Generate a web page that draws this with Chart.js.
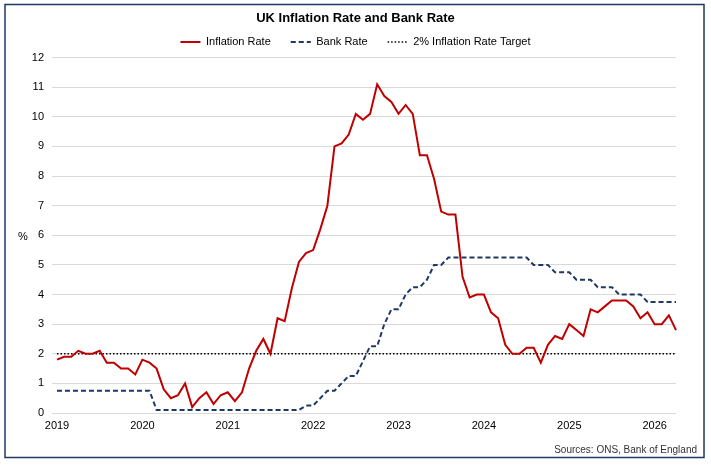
<!DOCTYPE html>
<html>
<head>
<meta charset="utf-8">
<script src="https://cdn.jsdelivr.net/npm/chart.js@4/dist/chart.umd.min.js"></script>
<style>
    body { margin: 0; background: #fff; }
    #wrap { position: relative; width: 711px; height: 465px; }
</style>
</head>
<body>
<div id="wrap"><canvas id="rates_chart" width="711" height="465"></canvas></div>
<script>
// tick labels / categories
const years = ["2019", "2020", "2021", "2022", "2023", "2024", "2025", "2026"];
const months = ["Jan", "Feb", "Mar", "Apr", "May", "Jun", "Jul", "Aug", "Sep", "Oct", "Nov", "Dec"];

// CPI 12-month rate, Jan 2019 - Apr 2026
const inflationRate = [
    1.8, 1.9, 1.9, 2.1, 2.0, 2.0, 2.1, 1.7, 1.7, 1.5, 1.5, 1.3,
    1.8, 1.7, 1.5, 0.8, 0.5, 0.6, 1.0, 0.2, 0.5, 0.7, 0.3, 0.6,
    0.7, 0.4, 0.7, 1.5, 2.1, 2.5, 2.0, 3.2, 3.1, 4.2, 5.1, 5.4,
    5.5, 6.2, 7.0, 9.0, 9.1, 9.4, 10.1, 9.9, 10.1, 11.1, 10.7, 10.5,
    10.1, 10.4, 10.1, 8.7, 8.7, 7.9, 6.8, 6.7, 6.7, 4.6, 3.9, 4.0,
    4.0, 3.4, 3.2, 2.3, 2.0, 2.0, 2.2, 2.2, 1.7, 2.3, 2.6, 2.5,
    3.0, 2.8, 2.6, 3.5, 3.4, 3.6, 3.8, 3.8, 3.8, 3.6, 3.2, 3.4,
    3.0, 3.0, 3.3, 2.8
];

// Bank Rate, same months
const bankRate = [
    0.75, 0.75, 0.75, 0.75, 0.75, 0.75, 0.75, 0.75, 0.75, 0.75, 0.75, 0.75,
    0.75, 0.75, 0.1, 0.1, 0.1, 0.1, 0.1, 0.1, 0.1, 0.1, 0.1, 0.1,
    0.1, 0.1, 0.1, 0.1, 0.1, 0.1, 0.1, 0.1, 0.1, 0.1, 0.1, 0.25,
    0.25, 0.5, 0.75, 0.75, 1.0, 1.25, 1.25, 1.75, 2.25, 2.25, 3.0, 3.5,
    3.5, 4.0, 4.25, 4.25, 4.5, 5.0, 5.0, 5.25, 5.25, 5.25, 5.25, 5.25,
    5.25, 5.25, 5.25, 5.25, 5.25, 5.25, 5.25, 5.0, 5.0, 5.0, 4.75, 4.75,
    4.75, 4.5, 4.5, 4.5, 4.25, 4.25, 4.25, 4.0, 4.0, 4.0, 4.0, 3.75,
    3.75, 3.75, 3.75, 3.75
];

const targetRate = 2;

// month labels built from the years / months lists
let labels = [];
years.forEach(y => months.forEach(m => labels.push(m + " " + y)));
labels = labels.slice(0, inflationRate.length);

const FONT = "'Liberation Sans', Arial, sans-serif";

// frame, "%" label and source note
const extras = {
    id: "extras",
    afterDraw(chart) {
        const ctx = chart.ctx;
        ctx.save();
        ctx.strokeStyle = "#1f3864";
        ctx.lineWidth = 1.5;
        ctx.strokeRect(5, 4.5, 699, 453);
        ctx.fillStyle = "#000";
        ctx.font = "11px " + FONT;
        ctx.textAlign = "left";
        ctx.textBaseline = "middle";
        ctx.fillText("%", 18, 237);
        ctx.fillStyle = "#333";
        ctx.font = "10px " + FONT;
        ctx.textAlign = "right";
        ctx.fillText("Sources: ONS, Bank of England", 697, 450);
        ctx.restore();
    }
};

new Chart("rates_chart", {
    type: "line",
    data: {
        labels: labels,
        datasets: [{
            label: "Inflation Rate",
            data: inflationRate,
            borderColor: "#c00000",
            backgroundColor: "#c00000",
            borderWidth: 2,
            pointRadius: 0,
            tension: 0
        }, {
            label: "Bank Rate",
            data: bankRate,
            borderColor: "#1f3864",
            backgroundColor: "#1f3864",
            borderWidth: 2,
            borderDash: [5, 3],
            pointRadius: 0,
            tension: 0
        }, {
            label: "2% Inflation Rate Target",
            data: labels.map(() => targetRate),
            borderColor: "#000",
            backgroundColor: "#000",
            borderWidth: 1.5,
            borderDash: [1.5, 2],
            pointRadius: 0
        }]
    },
    options: {
        responsive: false,
        animation: false,
        layout: { padding: { left: 12, right: 12, top: 2, bottom: 30 } },
        plugins: {
            title: {
                display: true,
                text: "UK Inflation Rate and Bank Rate",
                color: "#000",
                font: { family: FONT, size: 13, weight: "bold" },
                padding: { top: 9, bottom: -10 }
            },
            legend: {
                labels: {
                    usePointStyle: true,
                    pointStyleWidth: 20,
                    color: "#000",
                    font: { family: FONT, size: 11 },
                    padding: 20,
                    // legend samples drawn with the dataset's own dash and width
                    generateLabels: (chart) => chart.data.datasets.map((ds, i) => ({
                        text: ds.label,
                        fillStyle: ds.borderColor,
                        strokeStyle: ds.borderColor,
                        lineWidth: ds.borderWidth,
                        lineDash: ds.borderDash || [],
                        pointStyle: "line",
                        fontColor: "#000",
                        hidden: false,
                        datasetIndex: i
                    }))
                }
            },
            tooltip: { enabled: false }
        },
        scales: {
            x: {
                grid: { display: false, drawTicks: false },
                border: { display: false },
                afterFit: (scale) => { scale.height = 22; },
                ticks: {
                    autoSkip: false,
                    maxRotation: 0,
                    color: "#000",
                    font: { family: FONT, size: 11 },
                    padding: 6,
                    callback: function (value) {
                        const lab = this.getLabelForValue(value);
                        return lab.startsWith("Jan") ? lab.slice(4) : "";
                    }
                }
            },
            y: {
                min: 0,
                max: 12,
                border: { display: false },
                afterFit: (scale) => { scale.width = 45; },
                grid: { color: "#d9d9d9", tickLength: 5 },
                ticks: {
                    stepSize: 1,
                    color: "#000",
                    font: { family: FONT, size: 11 },
                    padding: 8
                }
            },
            // empty right-hand axis, only reserves the margin on the right
            yRight: {
                position: "right",
                min: 0,
                max: 12,
                grid: { display: false, drawTicks: false },
                border: { display: false },
                ticks: { display: false },
                afterFit: (scale) => { scale.width = 23; }
            }
        }
    },
    plugins: [extras]
});
</script>
</body>
</html>
